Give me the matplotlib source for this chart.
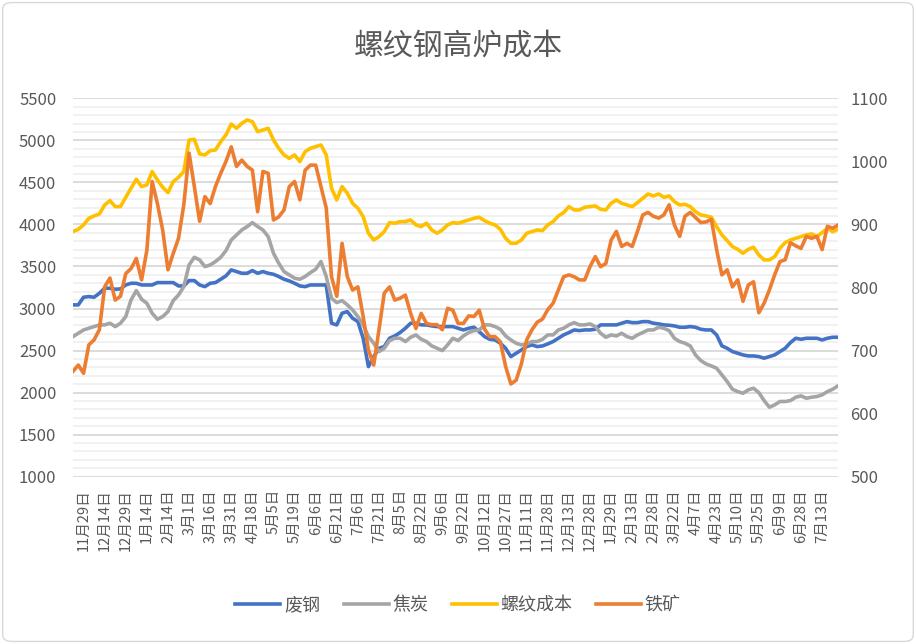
import matplotlib
matplotlib.use('Agg')
import matplotlib.pyplot as plt
from matplotlib.ticker import MultipleLocator, FixedLocator
from matplotlib.patches import FancyBboxPatch

plt.rcParams['font.family'] = ['Noto Sans CJK SC', 'DejaVu Sans']

title = '螺纹钢高炉成本'
series_names = ['废钢', '焦炭', '螺纹成本', '铁矿']

tick_labels = ['11月29日', '12月14日', '12月29日', '1月14日', '2月14日', '3月1日',
               '3月16日', '3月31日', '4月18日', '5月5日', '5月19日', '6月6日',
               '6月21日', '7月6日', '7月21日', '8月5日', '8月22日', '9月6日',
               '9月22日', '10月12日', '10月27日', '11月11日', '11月28日', '12月13日',
               '12月28日', '1月29日', '2月13日', '2月28日', '3月22日', '4月7日',
               '4月23日', '5月10日', '5月25日', '6月9日', '6月28日', '7月13日']

left_ticks = [1000, 1500, 2000, 2500, 3000, 3500, 4000, 4500, 5000, 5500]
right_ticks = [500, 600, 700, 800, 900, 1000, 1100]

scrap = [3043, 3043, 3134, 3142, 3134, 3181, 3241, 3241, 3229, 3233, 3280, 3300, 3300, 3280, 3280, 3280,
         3308, 3308, 3308, 3308, 3268, 3268, 3332, 3332, 3280, 3260, 3300, 3308, 3348, 3388, 3459, 3439,
         3419, 3419, 3451, 3419,
         3439, 3419, 3407, 3380, 3348, 3328, 3300, 3268, 3260, 3280, 3280, 3280, 3280, 2825, 2805, 2944,
         2963, 2884, 2845, 2646, 2309, 2428, 2527, 2547, 2646, 2674, 2714, 2765, 2825, 2825, 2805, 2805,
         2793, 2785, 2785, 2785, 2785,
         2765, 2745, 2765, 2777, 2725, 2666, 2634, 2626, 2587, 2527, 2428, 2468, 2508, 2547, 2567, 2547,
         2555, 2579, 2607, 2646, 2686, 2714, 2745, 2737, 2745, 2745, 2753, 2805, 2805, 2805, 2805, 2825,
         2844, 2832, 2832, 2844, 2844,
         2825, 2817, 2805, 2801, 2793, 2777, 2777, 2785, 2777, 2753, 2745, 2745, 2686, 2555, 2527, 2488,
         2468, 2448, 2436, 2436, 2428, 2409, 2428, 2448, 2488, 2527, 2595, 2646, 2634, 2646, 2646, 2646,
         2626, 2646, 2658, 2658]

coke = [2666, 2706, 2745, 2765, 2785, 2805, 2805, 2825, 2785, 2825, 2904, 3102, 3213, 3110, 3062, 2944,
        2872, 2904, 2963, 3094, 3161, 3260, 3518, 3609, 3578, 3498, 3518, 3558, 3609, 3689, 3815, 3875,
        3934, 3974, 4021, 3974,
        3934, 3855, 3657, 3538, 3439, 3400, 3360, 3348, 3380, 3427, 3467, 3558, 3380, 3122, 3070, 3094,
        3043, 2983, 2904, 2805, 2666, 2587, 2488, 2527, 2619, 2646, 2646, 2607, 2658, 2686, 2634, 2607,
        2555, 2527, 2500, 2567, 2646,
        2619, 2674, 2714, 2737, 2745, 2805, 2805, 2785, 2753, 2674, 2626, 2587, 2567, 2579, 2607, 2607,
        2634, 2686, 2686, 2745, 2765, 2805, 2832, 2805, 2805, 2817, 2785, 2706, 2658, 2686, 2674, 2706,
        2666, 2646, 2686, 2714, 2745,
        2745, 2777, 2765, 2737, 2646, 2607, 2587, 2555, 2448, 2381, 2341, 2317, 2290, 2210, 2131, 2040,
        2012, 1992, 2032, 2052, 2000, 1905, 1826, 1854, 1894, 1894, 1905, 1945, 1961, 1933, 1945, 1953,
        1973, 2012, 2040, 2080]

rebar_cost = [3915, 3942, 3994, 4073, 4101, 4124, 4231, 4283, 4212, 4212, 4323, 4430, 4537, 4450, 4470, 4628,
              4529, 4442, 4378, 4509, 4560, 4628, 5004, 5012, 4838, 4826, 4877, 4885, 4984, 5064, 5194, 5143,
              5202, 5242, 5222, 5103,
              5123, 5143, 5004, 4905, 4826, 4786, 4826, 4747, 4865, 4905, 4925, 4945, 4826, 4430, 4291, 4450,
              4370, 4251, 4192, 4093, 3895, 3815, 3855, 3915, 4021, 4014, 4033, 4033, 4053, 3994, 3974, 4014,
              3934, 3895, 3934, 3994, 4021,
              4014, 4033, 4053, 4073, 4085, 4045, 4014, 3994, 3942, 3835, 3776, 3776, 3815, 3895, 3915, 3934,
              3926, 3994, 4033, 4101, 4140, 4212, 4172, 4172, 4204, 4212, 4220, 4180, 4172, 4251, 4291, 4251,
              4231, 4212, 4259, 4310, 4362,
              4338, 4362, 4323, 4338, 4271, 4231, 4239, 4212, 4152, 4112, 4101, 4085, 3974, 3875, 3807, 3736,
              3704, 3657, 3704, 3728, 3637, 3578, 3578, 3617, 3716, 3784, 3815, 3835, 3855, 3875, 3887, 3855,
              3902, 3954, 3914, 3942]

iron_ore = [667, 677, 664, 709, 717, 733, 801, 815, 780, 786, 822, 830, 846, 812, 859, 968,
            933, 891, 828, 854, 878, 931, 1013, 960, 905, 944, 933, 960, 981, 1000, 1023, 992,
            1002, 992, 986, 920,
            984, 981, 907, 912, 923, 960, 968, 939, 986, 994, 994, 960, 926, 817, 786, 870,
            817, 796, 801, 754, 701, 677, 733, 791, 801, 780, 783, 788, 759, 735, 759, 743,
            741, 741, 733, 767, 764,
            743, 743, 755, 754, 764, 734, 722, 722, 714, 675, 647, 653, 679, 717, 733, 745,
            750, 765, 775, 796, 817, 820, 817, 812, 812, 833, 849, 833, 838, 875, 889, 865,
            870, 865, 889, 915, 919,
            913, 910, 915, 931, 899, 881, 913, 919, 911, 903, 904, 908, 860, 820, 828, 801,
            812, 778, 804, 809, 760, 775, 796, 820, 841, 844, 871, 866, 862, 881, 878, 881,
            860, 897, 894, 899]

colors = ['#4472C4', '#A5A5A5', '#FFC000', '#ED7D31']
text_color = '#595959'

fig = plt.figure(figsize=(9.16, 6.44), dpi=100)
fig.patches.append(FancyBboxPatch((0.003, 0.004), 0.994, 0.992, boxstyle='round,pad=0,rounding_size=0.01',
                                  transform=fig.transFigure, fill=False, edgecolor='#D9D9D9', lw=1.0))

ax = fig.add_axes([0.0797, 0.2598, 0.8351, 0.5876])
n = len(scrap)
x = list(range(n))
lw = 2.6
l1, = ax.plot(x, scrap, color=colors[0], lw=lw, label=series_names[0], solid_joinstyle='round')
l2, = ax.plot(x, coke, color=colors[1], lw=lw, label=series_names[1], solid_joinstyle='round')
l3, = ax.plot(x, rebar_cost, color=colors[2], lw=lw, label=series_names[2], solid_joinstyle='round')
ax2 = ax.twinx()
l4, = ax2.plot(x, iron_ore, color=colors[3], lw=lw, label=series_names[3], solid_joinstyle='round')

ax.set_xlim(0, n - 1)
ax.set_ylim(left_ticks[0], left_ticks[-1])
ax2.set_ylim(right_ticks[0], right_ticks[-1])
ax.yaxis.set_major_locator(FixedLocator(left_ticks))
ax.yaxis.set_minor_locator(MultipleLocator(100))
ax2.yaxis.set_major_locator(FixedLocator(right_ticks))

ax.grid(which='major', axis='y', color='#D9D9D9', lw=1.3)
ax.grid(which='minor', axis='y', color='#EEEEEE', lw=1.1)
ax.set_axisbelow(True)

tick_pos = [2 + 4 * i for i in range(len(tick_labels))]
ax.set_xticks(tick_pos)
ax.set_xticklabels(tick_labels, rotation=90, fontsize=10.5, color=text_color)

for a in (ax, ax2):
    for s in a.spines.values():
        s.set_visible(False)
    a.tick_params(which='both', length=0)
ax.tick_params(axis='y', labelsize=12, labelcolor=text_color, pad=12)
ax2.tick_params(axis='y', labelsize=12, labelcolor=text_color, pad=9)
ax.tick_params(axis='x', pad=9)

fig.text(0.5, 0.928, title, ha='center', va='center', fontsize=21.5, color=text_color)

fig.legend(handles=[l1, l2, l3, l4], labels=series_names, loc='center', bbox_to_anchor=(0.5, 0.0606),
           ncol=4, frameon=False, fontsize=13, handlelength=2.5, handletextpad=0.2, columnspacing=1.3,
           labelcolor=text_color)

fig.savefig('out.png', dpi=100)
